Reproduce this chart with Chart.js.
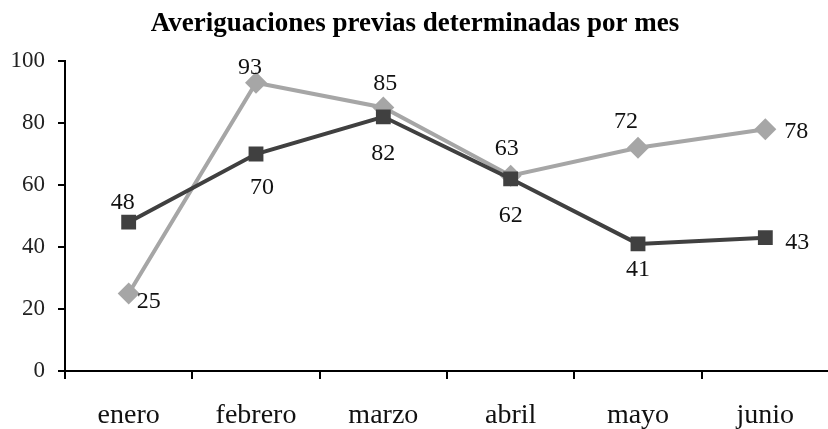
<!DOCTYPE html>
<html>
<head>
<meta charset="utf-8">
<script src="https://cdn.jsdelivr.net/npm/chart.js@4"></script>
<style>
  html, body { margin: 0; padding: 0; background: #fff; overflow: hidden; }
  #wrap { width: 840px; height: 429px; }
</style>
</head>
<body>
<div id="wrap"><canvas id="chart"></canvas></div>
<script>
const months = ['enero', 'febrero', 'marzo', 'abril', 'mayo', 'junio'];
const darkValues = [48, 70, 82, 62, 41, 43];
const lightValues = [25, 93, 85, 63, 72, 78];
const yTicks = [0, 20, 40, 60, 80, 100];
const chartTitle = 'Averiguaciones previas determinadas por mes';

// where each value label sits relative to its point (dx, dy)
const darkLabelOffsets = [[-6, -19], [6, 34], [0, 37], [0, 37], [0, 26], [32, 5]];
const lightLabelOffsets = [[20, 8], [-6, -15], [2, -24], [-4, -27], [-12, -26], [31, 3]];

const serif = '"Liberation Serif", "Times New Roman", serif';

const valueLabels = {
  id: 'valueLabels',
  afterDatasetsDraw(chart) {
    const ctx = chart.ctx;
    ctx.save();
    ctx.fillStyle = '#111';
    ctx.font = '24px ' + serif;
    ctx.textAlign = 'center';
    ctx.textBaseline = 'middle';
    chart.data.datasets.forEach((ds, i) => {
      chart.getDatasetMeta(i).data.forEach((pt, j) => {
        const off = ds.labelOffsets[j];
        ctx.fillText(String(ds.data[j]), pt.x + off[0], pt.y + off[1]);
      });
    });
    // title
    ctx.fillStyle = '#000';
    ctx.font = 'bold 27px ' + serif;
    ctx.fillText(chartTitle, 415, 24);
    ctx.restore();
  }
};

new Chart(document.getElementById('chart'), {
  type: 'line',
  data: {
    labels: months,
    datasets: [{
      data: darkValues,
      labelOffsets: darkLabelOffsets,
      borderColor: '#404040',
      backgroundColor: '#404040',
      borderWidth: 4,
      pointStyle: 'rect',
      pointRadius: 10.5,
      pointHoverRadius: 10.5,
      pointBorderWidth: 0,
      tension: 0
    }, {
      data: lightValues,
      labelOffsets: lightLabelOffsets,
      borderColor: '#a6a6a6',
      backgroundColor: '#a6a6a6',
      borderWidth: 4,
      pointStyle: 'rectRot',
      pointRadius: 11,
      pointHoverRadius: 11,
      pointBorderWidth: 0,
      tension: 0
    }]
  },
  options: {
    responsive: true,
    maintainAspectRatio: false,
    animation: false,
    events: [],
    layout: { padding: { top: 61, right: 7, left: 0, bottom: 0 } },
    plugins: {
      legend: { display: false },
      title: { display: false },
      tooltip: { enabled: false }
    },
    scales: {
      x: {
        offset: true,
        grid: { offset: true, drawOnChartArea: false, drawTicks: true, tickLength: 8, color: '#000', lineWidth: 2 },
        border: { color: '#000', width: 2 },
        ticks: { color: '#111', font: { family: serif, size: 28 }, padding: 20, maxRotation: 0 },
        afterFit(scale) { scale.height = 58; }
      },
      y: {
        min: 0,
        max: 100,
        afterBuildTicks(scale) { scale.ticks = yTicks.map(v => ({ value: v })); },
        grid: { drawOnChartArea: false, drawTicks: true, tickLength: 7, color: '#000', lineWidth: 2 },
        border: { color: '#000', width: 2 },
        ticks: { color: '#222', font: { family: serif, size: 23 }, padding: 13 },
        afterFit(scale) { scale.width = 65; }
      }
    }
  },
  plugins: [valueLabels]
});
</script>
</body>
</html>
